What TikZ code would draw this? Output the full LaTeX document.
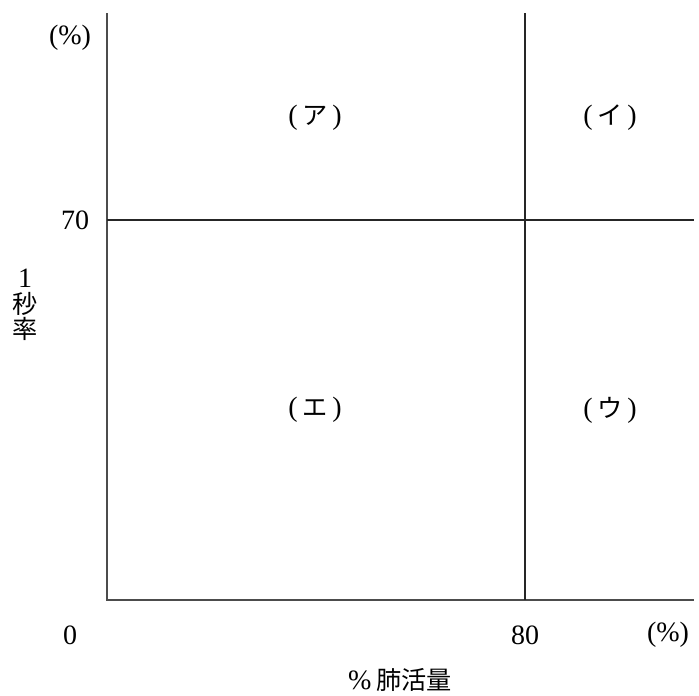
\documentclass[tikz,border=0pt]{standalone}
\usepackage{fontspec}
\setmainfont{Liberation Serif}
\newfontfamily\jp{Noto Sans CJK JP}[Scale=0.9]
\begin{document}
\begin{tikzpicture}[x=1pt,y=-1pt,
  axisline/.style={draw=black!70,line width=1.3pt},
  gridline/.style={draw=black!85,line width=1.6pt},
  lbl/.style={inner sep=0pt,font=\fontsize{28}{30}\selectfont}]
\useasboundingbox (0,0) rectangle (699,696);
\coordinate (top) at (107,13);
\coordinate (org) at (107,600);
\coordinate (xend) at (694,600);
\coordinate (vtop) at (525,13);
\coordinate (vbot) at (525,600);
\coordinate (hl) at (107,220);
\coordinate (hr) at (694,220);
\draw[axisline] (top) -- (org) -- (xend);
\draw[gridline] (vtop) -- (vbot);
\draw[gridline] (hl) -- (hr);
\node[lbl] (ypct) at (70,38) {(\%)};
\node[lbl] (y70) at (75,220) {70};
\node[lbl] (ylab1) at (25,278) {1};
\node[lbl] (ylab2) at (25,304) {\jp 秒};
\node[lbl] (ylab3) at (25,329) {\jp 率};
\node[lbl] (x0) at (70,635) {0};
\node[lbl] (x80) at (525,635) {80};
\node[lbl] (xpct) at (668,635) {(\%)};
\node[lbl] (xlab) at (400,680) {\%\,{\jp 肺活量}};
\node[lbl] (a) at (315,118) {(\,{\jp ア}\,)};
\node[lbl] (i) at (610,118) {(\,{\jp イ}\,)};
\node[lbl] (e) at (315,410) {(\,{\jp エ}\,)};
\node[lbl] (u) at (610,410) {(\,{\jp ウ}\,)};
\end{tikzpicture}
\end{document}
